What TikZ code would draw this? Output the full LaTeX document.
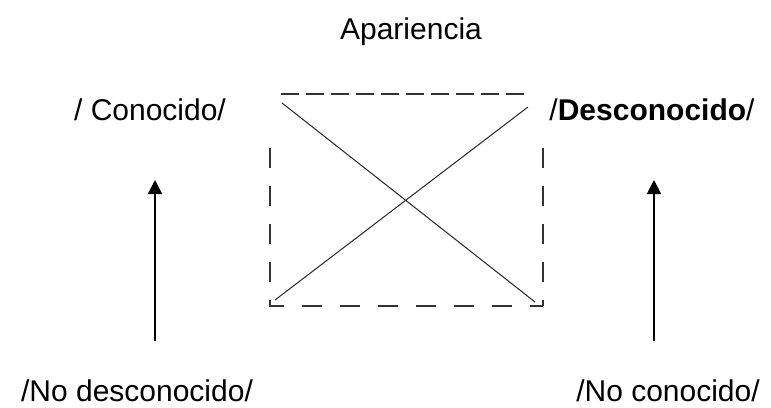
\documentclass[tikz,border=0pt]{standalone}
\usepackage{fontspec}
\setmainfont{Liberation Sans}
\usetikzlibrary{arrows.meta}
\begin{document}
\begin{tikzpicture}[x=1pt,y=-1pt,
  lbl/.style={inner sep=0pt,anchor=base,font=\fontsize{30}{34}\selectfont},
  dashline/.style={draw=black!80,line width=1.8pt,dash pattern=on 18pt off 7pt},
  sideline/.style={draw=black!80,line width=1.8pt,dash pattern=on 20pt off 18pt},
  diag/.style={draw=black!85,line width=1pt},
  uparrow/.style={draw=black,line width=1.8pt,-{Triangle[width=14pt,length=14pt]}}]
\useasboundingbox (0,0) rectangle (771,407);
\node[lbl] (ap) at (411,39) {Apariencia};
\node[lbl] (con) at (150,120) {/ Conocido/};
\node[lbl] (des) at (652,120) {/\textbf{Desconocido}/};
\node[lbl] (nodes) at (137,401) {/No desconocido/};
\node[lbl] (nocon) at (668,401) {/No conocido/};
% box
\coordinate (tl) at (281,94);
\coordinate (tr) at (529,94);
\coordinate (ltop) at (270,148);
\coordinate (bl) at (270,306);
\coordinate (br) at (543,306);
\coordinate (rtop) at (543,148);
\draw[dashline] (tl) -- (tr);
\draw[sideline] (ltop) -- (bl) -- (br);
\draw[sideline] (rtop) -- (br);
\coordinate (d1a) at (282,103);
\coordinate (d1b) at (535,302);
\coordinate (d2a) at (275,300);
\coordinate (d2b) at (528,107);
\draw[diag] (d1a) -- (d1b);
\draw[diag] (d2a) -- (d2b);
% arrows
\coordinate (la) at (155,341);
\coordinate (lb) at (155,180);
\coordinate (ra) at (654,341);
\coordinate (rb) at (654,180);
\draw[uparrow] (la) -- (lb);
\draw[uparrow] (ra) -- (rb);
\end{tikzpicture}
\end{document}
